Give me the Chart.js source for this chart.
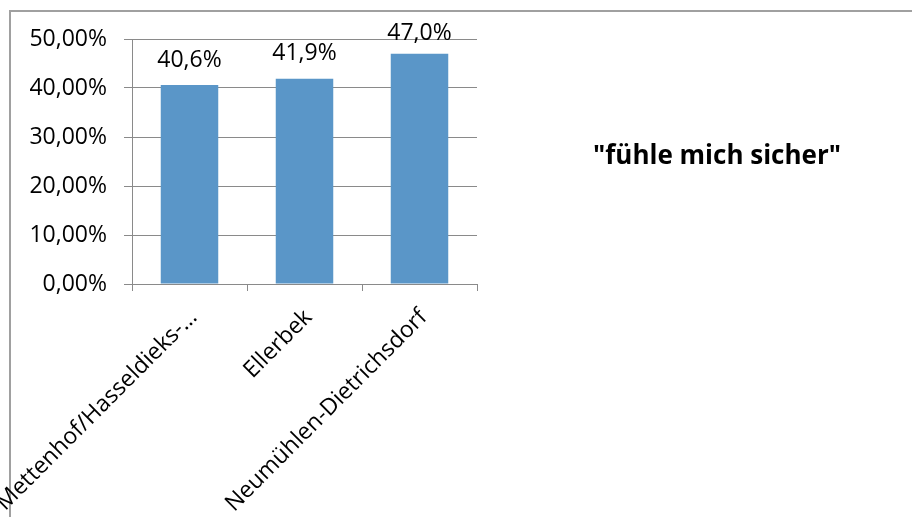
<!DOCTYPE html>
<html>
<head>
<meta charset="utf-8">
<script src="https://cdn.jsdelivr.net/npm/chart.js@4"></script>
<style>
  html, body { margin: 0; padding: 0; background: #ffffff; overflow: hidden; }
  #wrap { position: relative; width: 912px; height: 517px; }
</style>
</head>
<body>
<div id="wrap"><canvas id="c" width="912" height="517"></canvas></div>
<script>
const categories = ["Mettenhof/Hasseldieks-\u2026", "Ellerbek", "Neum\u00fchlen-Dietrichsdorf"];
const values = [0.406, 0.419, 0.470];
const yTicks = { min: 0, max: 0.5, step: 0.1 };
const chartTitle = "\"f\u00fchle mich sicher\"";

const FONT = "'Open Sans', 'Noto Sans', sans-serif";
const GRID = "#8a8a8a";

const decorPlugin = {
  id: 'decor',
  beforeDraw(chart) {
    const ctx = chart.ctx;
    ctx.save();
    ctx.fillStyle = '#ffffff';
    ctx.fillRect(0, 0, chart.width, chart.height);
    ctx.fillStyle = '#a0a0a0';
    ctx.fillRect(9, 10, chart.width - 9, 2);
    ctx.fillRect(9, 10, 2, chart.height - 10);
    ctx.restore();
  },
  afterDraw(chart) {
    const ctx = chart.ctx;
    ctx.save();
    const meta = chart.getDatasetMeta(0);
    ctx.font = "23px " + FONT;
    ctx.fillStyle = '#000000';
    ctx.textAlign = 'center';
    ctx.textBaseline = 'alphabetic';
    meta.data.forEach((bar, i) => {
      const v = chart.data.datasets[0].data[i];
      const txt = (v * 100).toFixed(1).replace('.', ',') + '%';
      const y = Math.max(bar.y - 18.5, 40);
      ctx.fillText(txt, bar.x, y);
    });
    ctx.font = "bold 26px " + FONT;
    ctx.textAlign = 'center';
    ctx.textBaseline = 'middle';
    ctx.fillText(chartTitle, 717, 157);
    ctx.restore();
  }
};

new Chart(document.getElementById('c'), {
  type: 'bar',
  data: {
    labels: categories,
    datasets: [{
      data: values,
      backgroundColor: '#5a96c8',
      borderWidth: 0,
      barPercentage: 0.5,
      categoryPercentage: 1.0
    }]
  },
  options: {
    responsive: false,
    animation: false,
    devicePixelRatio: 1,
    layout: { padding: { top: 39, right: 435, left: 0, bottom: 0 } },
    plugins: { legend: { display: false }, tooltip: { enabled: false }, title: { display: false } },
    scales: {
      x: {
        grid: { display: true, drawOnChartArea: false, drawTicks: true, tickLength: 7, color: GRID, offset: true },
        border: { display: true, color: GRID },
        ticks: {
          autoSkip: false, maxRotation: 45, minRotation: 45, padding: 13, labelOffset: 4,
          color: '#000000', font: { family: FONT, size: 23 }
        },
        afterFit(scale) { scale.height = 517 - 284; scale.paddingLeft = 0; scale.paddingRight = 0; }
      },
      y: {
        min: yTicks.min, max: yTicks.max,
        grid: { color: GRID, drawTicks: true, tickLength: 8 },
        border: { display: true, color: GRID },
        ticks: {
          stepSize: yTicks.step, padding: 17, color: '#000000',
          font: { family: FONT, size: 23 },
          callback: (v) => (v * 100).toFixed(2).replace('.', ',') + '%'
        },
        afterFit(scale) { scale.width = 132; }
      }
    }
  },
  plugins: [decorPlugin]
});
</script>
</body>
</html>
